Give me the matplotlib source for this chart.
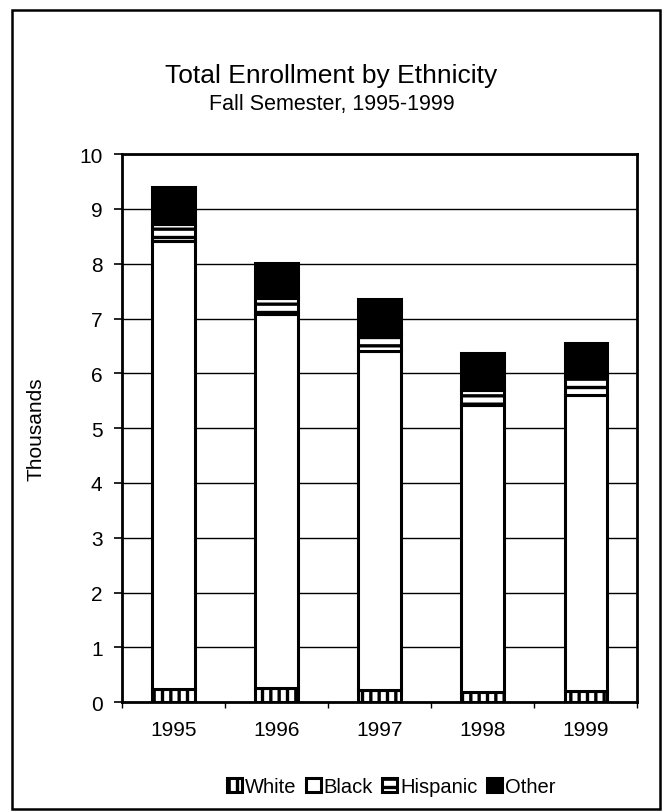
import matplotlib
matplotlib.use("Agg")
import matplotlib.pyplot as plt
import numpy as np
from matplotlib.patches import Rectangle

plt.rcParams.update({
    "font.family": ["Liberation Sans", "DejaVu Sans"],
    "hatch.linewidth": 2.4,
    "hatch.color": "black",
})

years = ["1995", "1996", "1997", "1998", "1999"]
# enrollment, thousands
white = [0.24, 0.26, 0.22, 0.18, 0.20]
black = [8.18, 6.83, 6.19, 5.24, 5.40]
hispanic = [0.30, 0.29, 0.30, 0.28, 0.35]
other = [0.68, 0.64, 0.64, 0.67, 0.61]

series = [
    ("White", white, dict(facecolor="white", hatch="||")),
    ("Black", black, dict(facecolor="white")),
    ("Hispanic", hispanic, dict(facecolor="white", hatch="--")),
    ("Other", other, dict(facecolor="black")),
]

fig = plt.figure(figsize=(6.63, 8.12), dpi=100)
ax = fig.add_axes([0.184, 0.134, 0.777, 0.675])

x = np.arange(len(years))
bottom = np.zeros(len(years))
handles = []
for name, vals, style in series:
    bars = ax.bar(x, vals, 0.41, bottom=bottom, edgecolor="black",
                  linewidth=2.2, label=name, zorder=3, **style)
    handles.append(bars)
    bottom += np.array(vals)

ax.set_xlim(-0.5, len(years) - 0.5)
ax.set_ylim(0, 10)
ax.set_yticks(range(0, 11))
ax.set_xticks(x, years, fontsize=15)
ax.set_xticks(np.arange(-0.5, len(years)), minor=True)
ax.tick_params(axis="x", which="major", length=0, pad=13)
ax.tick_params(axis="x", which="minor", length=4, width=1, direction="out")
ax.tick_params(axis="y", labelsize=15, length=6, width=1.2, direction="out",
               pad=8)
ax.grid(axis="y", color="black", linewidth=1.0, zorder=0)
for s in ax.spines.values():
    s.set_linewidth(2.0)
    s.set_color("black")
ax.set_ylabel("Thousands", fontsize=15, labelpad=24)

fig.text(0.5, 0.906, "Total Enrollment by Ethnicity", ha="center",
         va="center", fontsize=19)
fig.text(0.5, 0.871, "Fall Semester, 1995-1999", ha="center", va="center",
         fontsize=15.5)

fig.legend(handles=handles, labels=[s[0] for s in series], loc="center",
           bbox_to_anchor=(0.59, 0.03), ncol=4, frameon=False,
           fontsize=14.5, handlelength=0.75, handleheight=0.75,
           handletextpad=0.15, columnspacing=0.45)

# outer frame around the whole chart
fig.patches.append(Rectangle((0.018, 0.003), 0.978, 0.984,
                             transform=fig.transFigure, fill=False,
                             edgecolor="black", linewidth=1.8))

fig.savefig("out.png", dpi=100, facecolor="white")
